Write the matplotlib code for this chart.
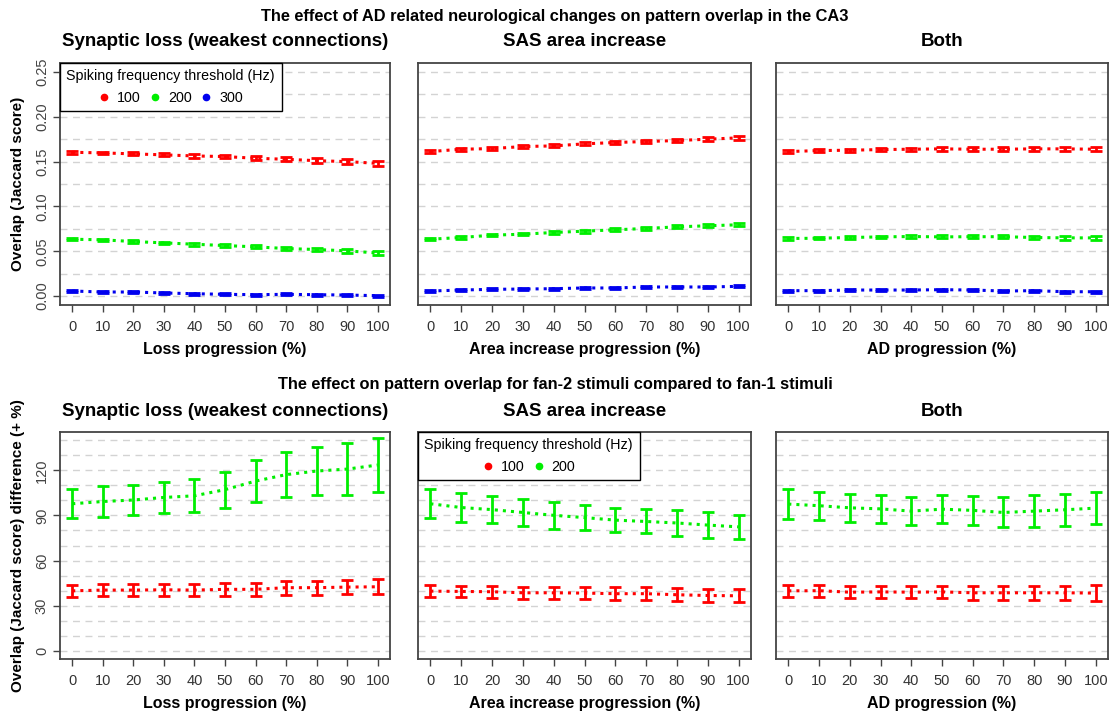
import matplotlib
matplotlib.use('Agg')
import matplotlib.pyplot as plt
from matplotlib.lines import Line2D
import numpy as np

plt.rcParams['font.family'] = ['Liberation Sans', 'DejaVu Sans']

progress = [0, 10, 20, 30, 40, 50, 60, 70, 80, 90, 100]
thresholds = ['100', '200', '300']
colors = {'100': '#ff0000', '200': '#00ee00', '300': '#0000ee'}

panel_titles = ['Synaptic loss (weakest connections)', 'SAS area increase', 'Both']
x_labels = ['Loss progression (%)', 'Area increase progression (%)', 'AD progression (%)']

# Jaccard overlap (mean, error) per condition and threshold
overlap_mean = {
    'loss': {
        '100': [0.1604, 0.1597, 0.1586, 0.1575, 0.1563, 0.1556, 0.1537, 0.1526, 0.1510, 0.1500, 0.1480],
        '200': [0.0634, 0.0627, 0.0608, 0.0593, 0.0578, 0.0563, 0.0549, 0.0530, 0.0519, 0.0504, 0.0480],
        '300': [0.0056, 0.0045, 0.0045, 0.0034, 0.0026, 0.0019, 0.0015, 0.0019, 0.0015, 0.0011, 0.0004],
    },
    'area': {
        '100': [0.1612, 0.1638, 0.1645, 0.1668, 0.1675, 0.1698, 0.1713, 0.1724, 0.1735, 0.1750, 0.1765],
        '200': [0.0634, 0.0653, 0.0679, 0.0690, 0.0709, 0.0724, 0.0739, 0.0754, 0.0772, 0.0784, 0.0795],
        '300': [0.0056, 0.0067, 0.0075, 0.0078, 0.0082, 0.0090, 0.0090, 0.0101, 0.0101, 0.0101, 0.0108],
    },
    'both': {
        '100': [0.1612, 0.1623, 0.1627, 0.1634, 0.1638, 0.1642, 0.1638, 0.1638, 0.1642, 0.1642, 0.1638],
        '200': [0.0642, 0.0645, 0.0653, 0.0660, 0.0664, 0.0660, 0.0662, 0.0662, 0.0653, 0.0649, 0.0649],
        '300': [0.0060, 0.0060, 0.0067, 0.0067, 0.0067, 0.0071, 0.0067, 0.0056, 0.0060, 0.0048, 0.0048],
    },
}
overlap_err = {
    'loss': {
        '100': [0.0015, 0.0015, 0.0016, 0.0017, 0.0018, 0.0020, 0.0022, 0.0024, 0.0025, 0.0027, 0.0030],
        '200': [0.0012, 0.0012, 0.0013, 0.0014, 0.0015, 0.0016, 0.0018, 0.0020, 0.0021, 0.0023, 0.0025],
        '300': [0.0010, 0.0010, 0.0010, 0.0010, 0.0010, 0.0010, 0.0010, 0.0010, 0.0010, 0.0010, 0.0010],
    },
    'area': {
        '100': [0.0015, 0.0015, 0.0016, 0.0016, 0.0017, 0.0018, 0.0019, 0.0020, 0.0021, 0.0022, 0.0022],
        '200': [0.0012, 0.0012, 0.0013, 0.0014, 0.0015, 0.0016, 0.0017, 0.0018, 0.0018, 0.0019, 0.0019],
        '300': [0.0010, 0.0010, 0.0010, 0.0010, 0.0011, 0.0011, 0.0011, 0.0011, 0.0011, 0.0012, 0.0012],
    },
    'both': {
        '100': [0.0015, 0.0015, 0.0016, 0.0017, 0.0018, 0.0019, 0.0020, 0.0021, 0.0023, 0.0024, 0.0025],
        '200': [0.0012, 0.0013, 0.0014, 0.0015, 0.0016, 0.0017, 0.0018, 0.0019, 0.0020, 0.0021, 0.0022],
        '300': [0.0010, 0.0010, 0.0010, 0.0011, 0.0011, 0.0011, 0.0012, 0.0012, 0.0012, 0.0012, 0.0012],
    },
}

# fan-2 vs fan-1 overlap difference (+ %)
fan_mean = {
    'loss': {
        '100': [39.8, 40.3, 40.3, 40.5, 40.3, 40.8, 40.8, 41.9, 41.9, 42.3, 42.5],
        '200': [97.8, 99.3, 100.3, 102.0, 103.1, 107.2, 112.9, 117.2, 119.6, 120.9, 123.6],
    },
    'area': {
        '100': [39.6, 39.4, 39.2, 38.5, 38.5, 38.3, 37.9, 37.9, 37.2, 36.7, 36.5],
        '200': [97.8, 95.3, 93.9, 92.0, 90.1, 88.6, 86.9, 86.0, 85.0, 83.6, 82.4],
    },
    'both': {
        '100': [39.8, 39.9, 38.9, 39.1, 38.9, 39.1, 38.5, 38.5, 38.5, 38.5, 38.3],
        '200': [97.6, 96.5, 95.1, 94.4, 92.9, 94.2, 93.4, 92.0, 92.9, 93.8, 94.9],
    },
}
fan_err = {
    'loss': {
        '100': [4.1, 4.2, 4.2, 4.0, 4.2, 4.2, 4.2, 4.7, 4.7, 4.7, 4.9],
        '200': [9.8, 10.2, 9.9, 10.2, 10.9, 12.0, 13.8, 14.8, 15.8, 17.1, 17.8],
    },
    'area': {
        '100': [3.9, 3.9, 4.0, 4.0, 4.1, 4.0, 4.2, 4.2, 4.3, 4.2, 4.3],
        '200': [9.8, 9.6, 9.2, 9.1, 9.0, 8.5, 8.2, 8.0, 8.4, 8.4, 8.0],
    },
    'both': {
        '100': [4.1, 4.0, 4.1, 3.9, 4.1, 3.9, 4.5, 4.5, 4.5, 4.5, 5.1],
        '200': [10.0, 9.2, 9.4, 9.4, 9.1, 9.3, 9.7, 10.0, 10.9, 10.7, 10.9],
    },
}

conditions = ['loss', 'area', 'both']

fig = plt.figure(figsize=(11.1, 7.13), dpi=100)

col_left = [60, 418, 776]
col_width = [330, 333, 332]
W, H = 1110, 713


def make_axes(col, top, bottom):
    return fig.add_axes([col_left[col] / W, 1 - bottom / H,
                         col_width[col] / W, (bottom - top) / H])


def style_axes(ax, ylim, yticks, ygrid, show_ylab, fmt):
    ax.set_xlim(-4, 104)
    pad = (ylim[1] - ylim[0]) * 0.04
    ax.set_ylim(ylim[0] - pad, ylim[1] + pad)
    for y in ygrid:
        ax.axhline(y, color='#d3d3d3', linestyle=(0, (5, 4)), linewidth=1, zorder=0)
    ax.set_xticks(progress)
    ax.set_xticklabels([str(p) for p in progress], fontsize=10.5, color='#333333')
    ax.tick_params(axis='x', length=5, width=1, color='#444444', pad=5.5)
    ax.set_yticks(yticks)
    if show_ylab:
        ax.set_yticklabels([fmt.format(v) for v in yticks], rotation=90,
                           va='center', fontsize=10.5, color='#444444')
        ax.tick_params(axis='y', length=5, width=1, color='#444444', pad=3)
    else:
        ax.set_yticklabels([])
        ax.tick_params(axis='y', length=0)
    for s in ax.spines.values():
        s.set_color('#444444')
        s.set_linewidth(1.3)


def draw_series(ax, mean, err, color):
    ax.plot(progress, mean, linestyle=':', color=color, linewidth=2.2, zorder=2)
    ax.errorbar(progress, mean, yerr=err, fmt='none', ecolor=color,
                elinewidth=2, capsize=4.3, capthick=2, zorder=3)


def add_legend(ax, keys):
    handles = [Line2D([], [], marker='o', color=colors[k], linestyle='none',
                      markersize=4.5, label=k) for k in keys]
    leg = ax.legend(handles=handles, loc='upper left', bbox_to_anchor=(0, 1),
                    borderaxespad=0, ncol=len(keys), fontsize=10.3,
                    title='Spiking frequency threshold (Hz)', title_fontsize=10.3,
                    frameon=True, fancybox=False, handlelength=0.8,
                    handletextpad=0.5, columnspacing=0.6, borderpad=0.45,
                    alignment='center')
    leg.get_frame().set_edgecolor('black')
    leg.get_frame().set_linewidth(1.0)
    leg.get_frame().set_alpha(1)
    leg.set_zorder(5)


# top row: overlap per threshold
for i, cond in enumerate(conditions):
    ax = make_axes(i, 63, 305)
    style_axes(ax, (0, 0.25), np.arange(0, 0.26, 0.05), np.arange(0, 0.26, 0.025),
               i == 0, '{:.2f}')
    for k in thresholds:
        draw_series(ax, overlap_mean[cond][k], overlap_err[cond][k], colors[k])
    ax.text(0.5, 1.087, panel_titles[i], transform=ax.transAxes, ha='center',
            va='center', fontsize=13.5, fontweight='bold')
    ax.set_xlabel(x_labels[i], fontsize=11.5, fontweight='bold', labelpad=6)
    if i == 0:
        ax.set_ylabel('Overlap (Jaccard score)', fontsize=11, fontweight='bold', labelpad=7)
        add_legend(ax, thresholds)

# bottom row: fan-2 vs fan-1 difference
for i, cond in enumerate(conditions):
    ax = make_axes(i, 432, 659)
    style_axes(ax, (0, 140), [0, 30, 60, 90, 120], np.arange(0, 141, 10),
               i == 0, '{:.0f}')
    for k in thresholds[:2]:
        draw_series(ax, fan_mean[cond][k], fan_err[cond][k], colors[k])
    ax.text(0.5, 1.0925, panel_titles[i], transform=ax.transAxes, ha='center',
            va='center', fontsize=13.5, fontweight='bold')
    ax.set_xlabel(x_labels[i], fontsize=11.5, fontweight='bold', labelpad=6)
    if i == 0:
        ax.set_ylabel('Overlap (Jaccard score) difference (+ %)', fontsize=11,
                      fontweight='bold', labelpad=7)
    if i == 1:
        add_legend(ax, thresholds[:2])

fig.text(0.5, 1 - 17 / H, 'The effect of AD related neurological changes on pattern overlap in the CA3',
         ha='center', va='center', fontsize=11.8, fontweight='bold')
fig.text(0.5, 1 - 385 / H, 'The effect on pattern overlap for fan-2 stimuli compared to fan-1 stimuli',
         ha='center', va='center', fontsize=11.8, fontweight='bold')

fig.savefig('out.png', dpi=100)
